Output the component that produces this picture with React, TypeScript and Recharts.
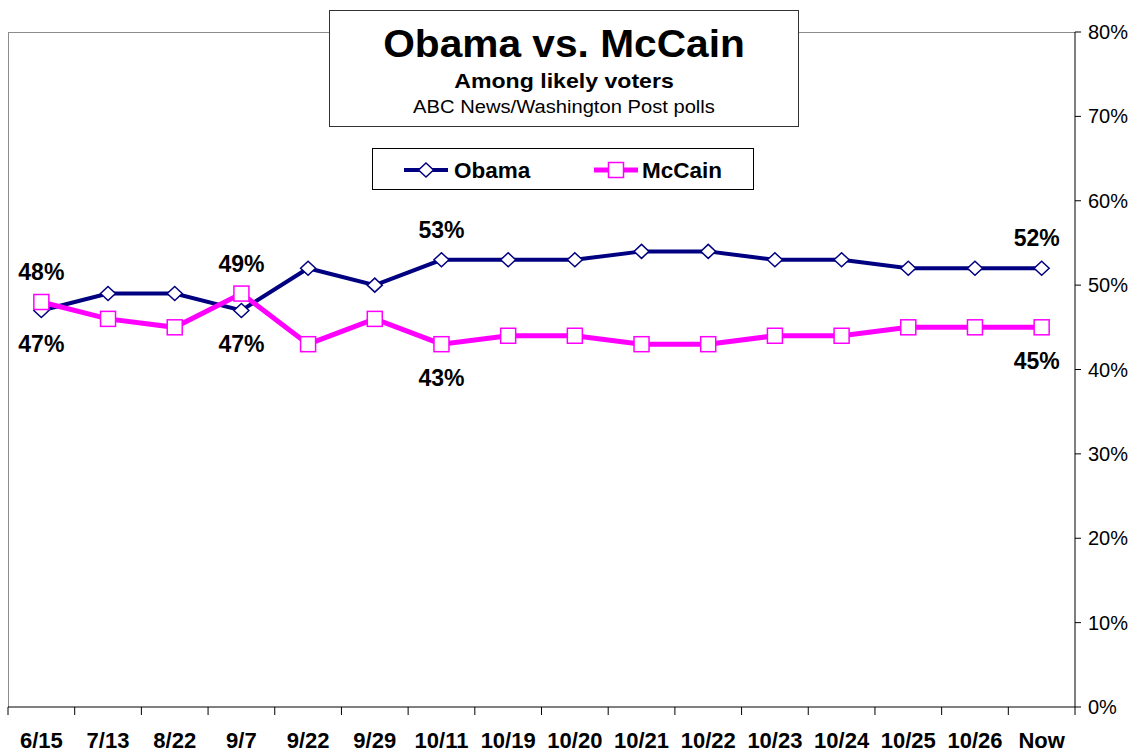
import React from 'react';
import { LineChart, Line, XAxis, YAxis, LabelList } from 'recharts';

const dates = ['6/15', '7/13', '8/22', '9/7', '9/22', '9/29', '10/11', '10/19', '10/20', '10/21', '10/22', '10/23', '10/24', '10/25', '10/26', 'Now'];
const obama = [47, 49, 49, 47, 52, 50, 53, 53, 53, 54, 54, 53, 53, 52, 52, 52];
const mccain = [48, 46, 45, 49, 43, 46, 43, 44, 44, 43, 43, 44, 44, 45, 45, 45];
const yTicks = [0, 10, 20, 30, 40, 50, 60, 70, 80];
const obamaAbove = [6, 15];
const obamaBelow = [0, 3];
const mccainAbove = [0, 3];
const mccainBelow = [6, 15];

const W = 1137;
const H = 754;
const M_LEFT = 8;
const M_TOP = 32;
const Y_W = 62;
const X_H = 47;
const PLOT_W = W - M_LEFT - Y_W;
const PLOT_H = H - M_TOP - X_H;
const BAND = PLOT_W / dates.length;
const FONT = '"Liberation Sans", Arial, Helvetica, sans-serif';
const NAVY = '#000080';
const MAGENTA = '#FF00FF';

const data = dates.map((d, i) => ({ date: d, obama: obama[i], mccain: mccain[i] }));

const XTick = (props: any) => {
  const { x, y, payload, index } = props;
  const last = index === dates.length - 1;
  return (
    <g>
      <line x1={x - BAND / 2} x2={x - BAND / 2} y1={y} y2={y + 8} stroke="#000" strokeWidth={1} />
      {last && <line x1={x + BAND / 2} x2={x + BAND / 2} y1={y} y2={y + 8} stroke="#000" strokeWidth={1} />}
      <text x={x} y={y + 41} textAnchor="middle" fontFamily={FONT} fontWeight="bold" fontSize={22} fill="#000">
        {payload.value}
      </text>
    </g>
  );
};

const Diamond = (props: any) => {
  const { cx, cy } = props;
  if (cx == null || cy == null) return null;
  const w = 7.5;
  const h = 7;
  return (
    <polygon
      points={`${cx},${cy - h} ${cx + w},${cy} ${cx},${cy + h} ${cx - w},${cy}`}
      fill="#fff"
      stroke={NAVY}
      strokeWidth={1.5}
    />
  );
};

const Square = (props: any) => {
  const { cx, cy } = props;
  if (cx == null || cy == null) return null;
  const s = 7.5;
  return <rect x={cx - s} y={cy - s} width={2 * s} height={2 * s} fill="#fff" stroke={MAGENTA} strokeWidth={1.5} />;
};

const makeLabel = (above: number[], below: number[]) => (props: any) => {
  const { x, y, value, index } = props;
  const isAbove = above.includes(index);
  const isBelow = below.includes(index);
  if (!isAbove && !isBelow) return null;
  const dx = index === dates.length - 1 ? -5 : 0;
  const ty = isAbove ? y - 22 : y + 42;
  return (
    <text x={x + dx} y={ty} textAnchor="middle" fontFamily={FONT} fontWeight="bold" fontSize={23} fill="#000">
      {`${value}%`}
    </text>
  );
};

const LegendBox = () => (
  <div
    style={{
      position: 'absolute',
      left: 372,
      top: 148,
      width: 380,
      height: 40,
      border: '1px solid #000',
      background: '#fff',
      fontFamily: FONT,
    }}
  >
    <svg width={380} height={40} style={{ position: 'absolute', left: 0, top: 0 }}>
      <line x1={31} x2={75} y1={21} y2={21} stroke={NAVY} strokeWidth={4} />
      <polygon points="53,14 60.5,21 53,28 45.5,21" fill="#fff" stroke={NAVY} strokeWidth={1.5} />
      <text x={81} y={29} fontFamily={FONT} fontWeight="bold" fontSize={22.5} fill="#000">Obama</text>
      <line x1={221} x2={265} y1={21} y2={21} stroke={MAGENTA} strokeWidth={5} />
      <rect x={235.5} y={13.5} width={15} height={15} fill="#fff" stroke={MAGENTA} strokeWidth={1.5} />
      <text x={269} y={29} fontFamily={FONT} fontWeight="bold" fontSize={22.5} fill="#000">McCain</text>
    </svg>
  </div>
);

export default function App() {
  return (
    <div style={{ position: 'absolute', left: 0, top: 0, width: W, height: H, background: '#fff' }}>
      <div
        style={{
          position: 'absolute',
          left: M_LEFT,
          top: M_TOP,
          width: PLOT_W,
          height: PLOT_H,
          borderTop: '1px solid #8c8c8c',
          borderLeft: '1px solid #8c8c8c',
          boxSizing: 'border-box',
        }}
      />
      <div style={{ position: 'absolute', left: 0, top: 0 }}>
        <LineChart width={W} height={H} data={data} margin={{ top: M_TOP, right: 0, bottom: 0, left: M_LEFT }}>
          <XAxis
            dataKey="date"
            height={X_H}
            interval={0}
            padding={{ left: BAND / 2, right: BAND / 2 }}
            tickLine={false}
            tickSize={0}
            tickMargin={0}
            axisLine={{ stroke: '#000', strokeWidth: 1 }}
            tick={<XTick />}
          />
          <YAxis
            orientation="right"
            width={Y_W}
            domain={[0, 80]}
            ticks={yTicks}
            interval={0}
            tickFormatter={(v: number) => `${v}%`}
            axisLine={{ stroke: '#000', strokeWidth: 1 }}
            tickLine={{ stroke: '#000' }}
            tickSize={6}
            tickMargin={7}
            tick={{ fill: '#000', fontSize: 20, fontFamily: FONT }}
          />
          <Line
            type="linear"
            dataKey="obama"
            name="Obama"
            stroke={NAVY}
            strokeWidth={4}
            dot={<Diamond />}
            activeDot={false}
            isAnimationActive={false}
          >
            <LabelList dataKey="obama" content={makeLabel(obamaAbove, obamaBelow)} />
          </Line>
          <Line
            type="linear"
            dataKey="mccain"
            name="McCain"
            stroke={MAGENTA}
            strokeWidth={5}
            dot={<Square />}
            activeDot={false}
            isAnimationActive={false}
          >
            <LabelList dataKey="mccain" content={makeLabel(mccainAbove, mccainBelow)} />
          </Line>
        </LineChart>
      </div>
      <div
        style={{
          position: 'absolute',
          left: 329,
          top: 10,
          width: 468,
          height: 115,
          border: '1px solid #333',
          background: '#fff',
          fontFamily: FONT,
          textAlign: 'center',
          color: '#000',
        }}
      >
        <div style={{ fontSize: 38, fontWeight: 'bold', lineHeight: '40px', marginTop: 13, transform: 'scaleX(1.07)' }}>
          Obama vs. McCain
        </div>
        <div style={{ fontSize: 21, fontWeight: 'bold', lineHeight: '22px', marginTop: 6, transform: 'scaleX(1.1)' }}>
          Among likely voters
        </div>
        <div style={{ fontSize: 18, lineHeight: '20px', marginTop: 5, transform: 'scaleX(1.12)' }}>
          ABC News/Washington Post polls
        </div>
      </div>
      <LegendBox />
    </div>
  );
}
